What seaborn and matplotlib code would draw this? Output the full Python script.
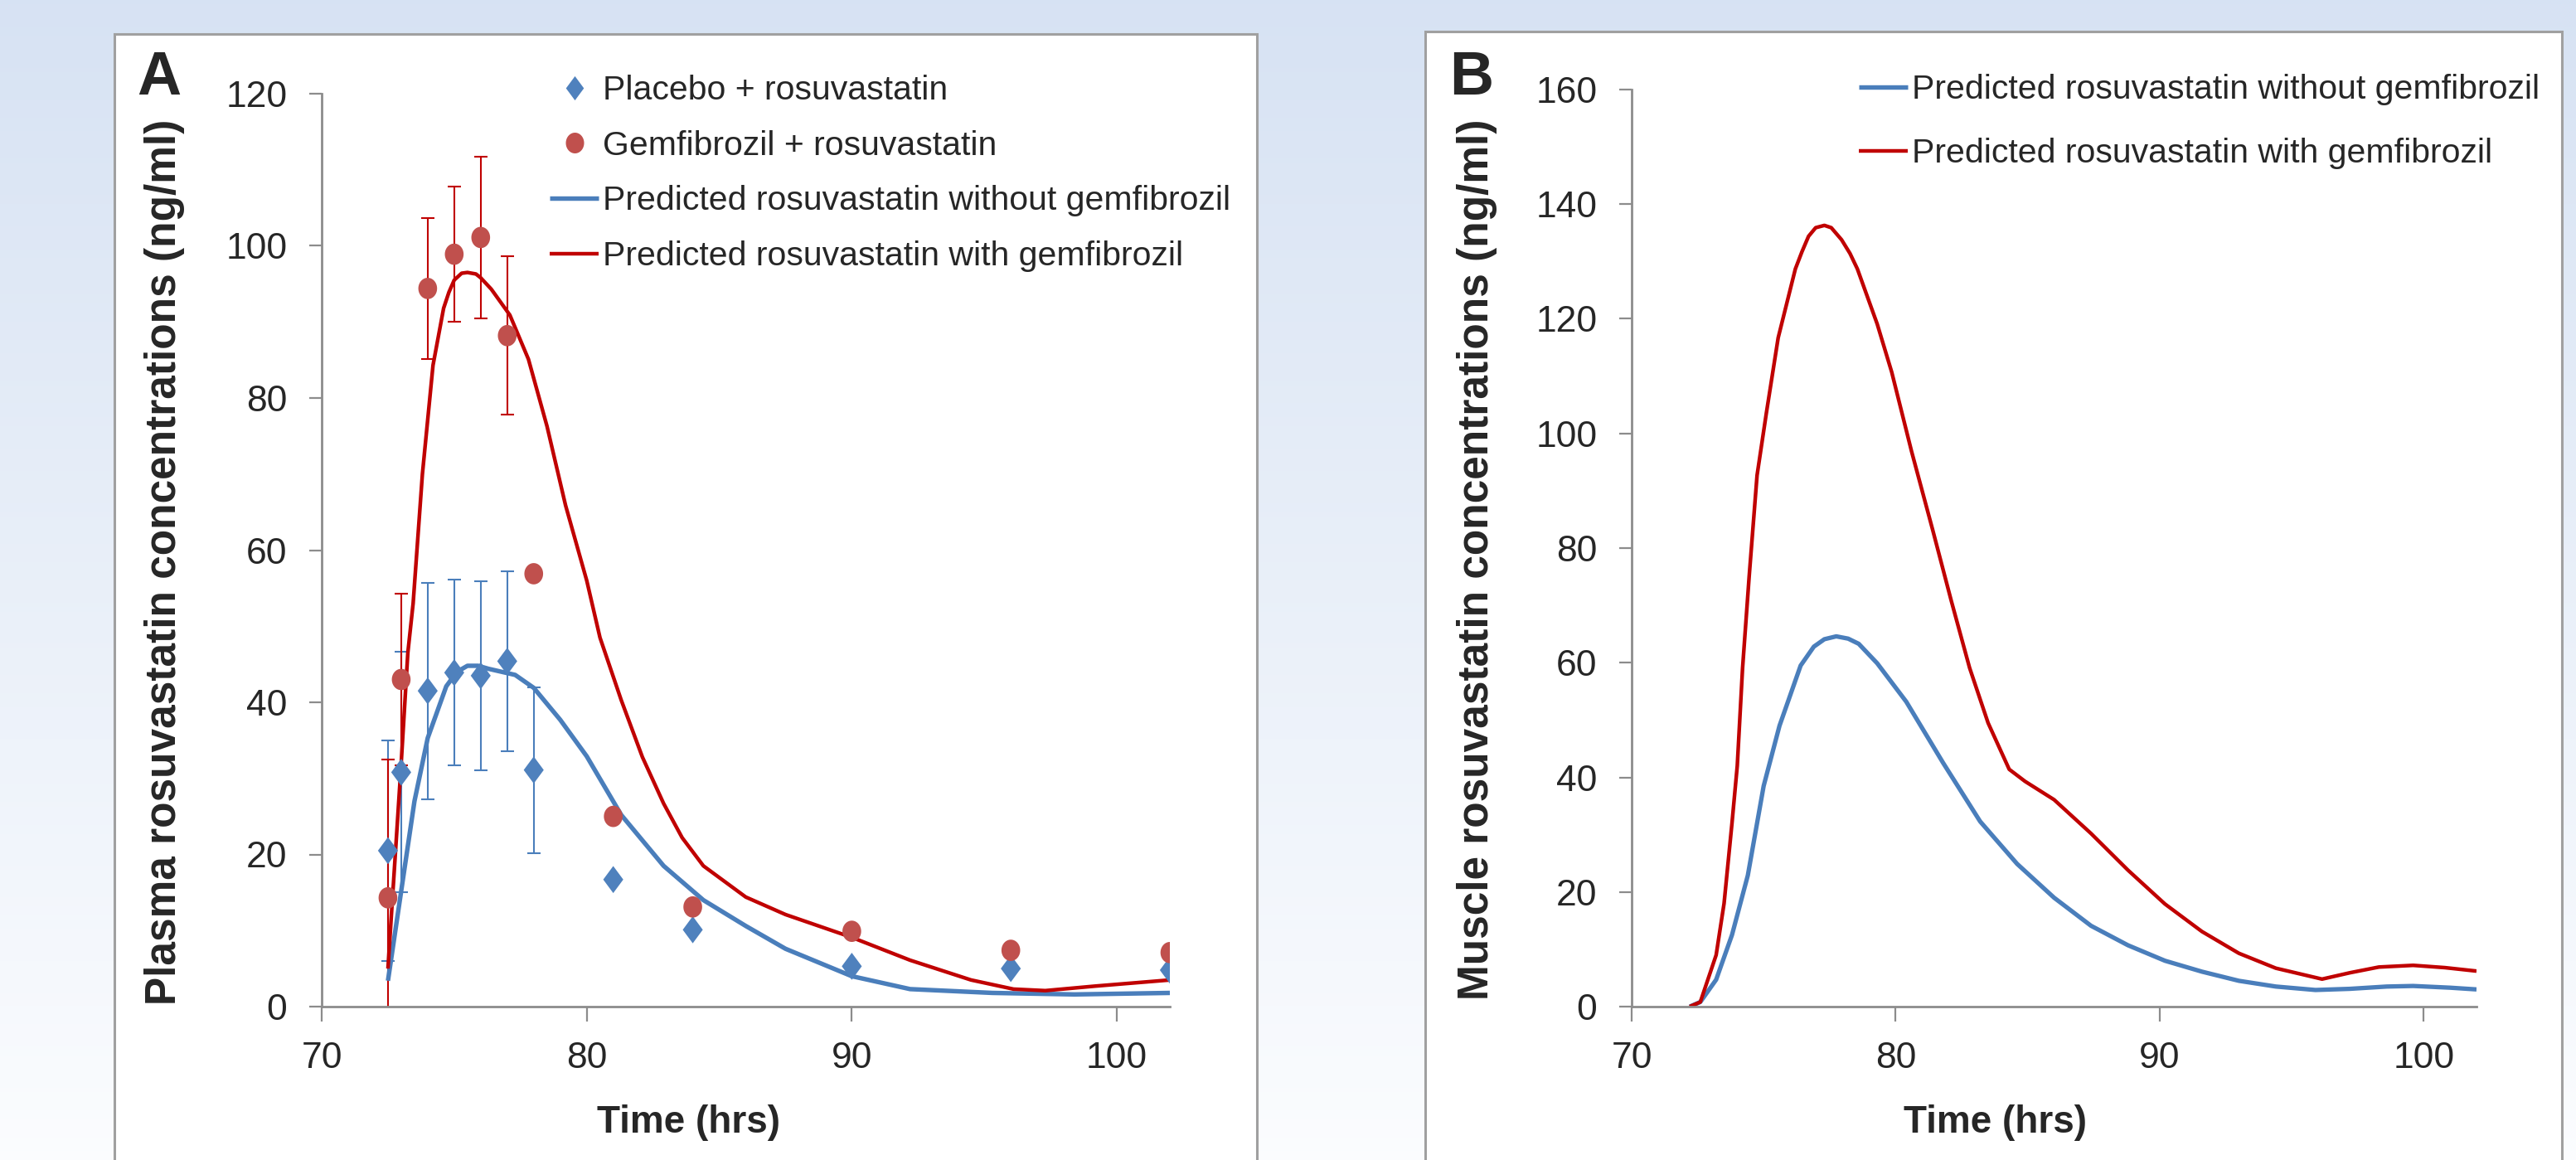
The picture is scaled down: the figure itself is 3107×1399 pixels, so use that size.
import numpy as np
import matplotlib
matplotlib.use("Agg")
import matplotlib.pyplot as plt
from matplotlib.path import Path
from matplotlib.lines import Line2D
from matplotlib.patches import Rectangle
import seaborn as sns

# observed plasma data (panel A)
obs_time = [72.5, 73, 74, 75, 76, 77, 78, 81, 84, 90, 96, 102]
placebo_obs = [20.5, 30.8, 41.5, 43.9, 43.5, 45.4, 31.1, 16.7, 10.1, 5.3, 5.0, 4.8]
placebo_sd = [14.5, 15.8, 14.2, 12.2, 12.4, 11.8, 10.9]
gem_obs = [14.3, 43.0, 94.4, 98.9, 101.1, 88.2, 56.9, 25.0, 13.1, 9.9, 7.4, 7.1]
gem_sd = [18.2, 11.3, 9.3, 8.9, 10.6, 10.4]

# predicted plasma curves (panel A)
plasma_t_without = [72.5, 73.0, 73.5, 74.0, 74.7, 75.1, 75.5, 75.9, 76.3, 77.3, 78.0,
                    79.0, 80.0, 81.3, 82.9, 84.4, 86.0, 87.5, 90.0, 92.2, 95.3, 98.4,
                    102.0]
plasma_without = [3.4, 15.2, 27.0, 35.3, 42.1, 44.0, 44.8, 44.8, 44.4, 43.6, 41.9,
                  37.7, 32.9, 25.2, 18.5, 14.0, 10.6, 7.6, 4.0, 2.3, 1.8, 1.6,
                  1.8]
plasma_t_with = [72.5, 73.0, 73.25, 73.45, 73.8, 74.2, 74.6, 74.8, 75.0, 75.28, 75.5,
                 75.82, 76.0, 76.4, 77.1, 77.8, 78.5, 79.2, 80.0, 80.5, 81.3, 82.1,
                 82.9, 83.6, 84.4, 86.0, 87.5, 90.0, 92.2, 94.5, 96.1, 97.3, 99.2,
                 102.0]
plasma_with = [5.0, 32.0, 46.5, 53.0, 70.0, 84.3, 91.8, 93.9, 95.5, 96.4, 96.5,
               96.3, 95.8, 94.3, 90.9, 85.1, 76.3, 65.9, 56.0, 48.5, 40.3, 32.8,
               26.7, 22.2, 18.5, 14.4, 12.1, 9.1, 6.1, 3.5, 2.3, 2.1, 2.7,
               3.5]

# predicted muscle curves (panel B)
muscle_t_without = [72.2, 72.6, 73.2, 73.8, 74.4, 75.0, 75.6, 76.4, 76.9, 77.3, 77.75,
                    78.2, 78.6, 79.3, 80.4, 81.8, 83.2, 84.6, 86.0, 87.4, 88.8, 90.2,
                    91.6, 93.0, 94.4, 95.9, 97.2, 98.6, 99.6, 101.0, 102.0]
muscle_without = [0.0, 0.8, 4.7, 12.5, 22.9, 38.5, 49.0, 59.5, 62.8, 64.1, 64.6,
                  64.2, 63.3, 59.9, 53.2, 42.5, 32.3, 24.9, 19.0, 14.1, 10.7, 8.0,
                  6.1, 4.5, 3.5, 2.9, 3.1, 3.5, 3.6, 3.3, 3.0]
muscle_t_with = [72.2, 72.6, 73.2, 73.5, 73.8, 74.0, 74.2, 74.45, 74.75, 75.1, 75.55,
                 76.2, 76.45, 76.7, 76.97, 77.3, 77.56, 77.95, 78.27, 78.55, 79.3,
                 79.85, 80.6, 81.4, 82.1, 82.8, 83.5, 84.3, 84.9, 86.0, 87.4, 88.8,
                 90.2, 91.6, 93.0, 94.4, 96.15, 97.2, 98.3, 99.6, 100.8, 102.0]
muscle_with = [0.0, 0.8, 9.0, 18.0, 32.0, 42.0, 59.0, 75.0, 92.7, 103.5, 116.7,
               128.7, 131.7, 134.4, 135.9, 136.3, 135.9, 133.8, 131.4, 128.7, 119.1,
               110.7, 96.9, 83.2, 70.9, 59.1, 49.5, 41.4, 39.3, 36.1, 30.2, 23.8,
               17.9, 13.1, 9.3, 6.7, 4.8, 5.9, 6.9, 7.2, 6.8, 6.2]

BLUE_LINE = "#4a7ebb"
RED_LINE = "#c00000"
BLUE_MK = "#4f81bd"
RED_MK = "#c0504d"
GRAY = "#8c8c8c"

sns.set_style("white")
plt.rcParams["font.family"] = ["Liberation Sans", "DejaVu Sans"]
plt.rcParams["lines.solid_joinstyle"] = "round"
plt.rcParams["lines.solid_capstyle"] = "butt"

# slightly tall marker shapes like the Excel ones
diamond = Path([(0, 1), (0.74, 0), (0, -1), (-0.74, 0), (0, 1)],
               [Path.MOVETO, Path.LINETO, Path.LINETO, Path.LINETO, Path.CLOSEPOLY])
ang = np.linspace(0, 2 * np.pi, 60)
ellipse = Path(np.column_stack([0.88 * np.cos(ang), np.sin(ang)]))

W, H = 3107, 1399
fig = plt.figure(figsize=(W / 100, H / 100), dpi=100)

# background gradient + white panels
bg = fig.add_axes([0, 0, 1, 1], zorder=-10)
top = np.array([0.843, 0.888, 0.953])
bot = np.array([0.985, 0.990, 0.998])
frac = np.linspace(0, 1, 256)[:, None, None]
grad = top * (1 - frac) + bot * frac
grad = np.repeat(grad, 4, axis=1)
bg.imshow(grad, aspect="auto", extent=[0, 1, 0, 1], origin="upper")
bg.set_xlim(0, 1)
bg.set_ylim(0, 1)
bg.axis("off")
for x0, x1, ytop in [(138, 1516, 41), (1719, 3090, 38)]:
    bg.add_patch(Rectangle((x0 / W, -0.01), (x1 - x0) / W, 1 - ytop / H + 0.01,
                           facecolor="white", edgecolor="#a0a0a0", lw=2.2))


def px_axes(x0, x1, ytop, ybot):
    return fig.add_axes([x0 / W, 1 - ybot / H, (x1 - x0) / W, (ybot - ytop) / H])


def style_axes(ax, ymax):
    ax.set_facecolor("none")
    for s in ["top", "right"]:
        ax.spines[s].set_visible(False)
    for s in ["left", "bottom"]:
        ax.spines[s].set_color(GRAY)
        ax.spines[s].set_linewidth(2.0)
    ax.set_xlim(70, 102)
    ax.set_ylim(0, ymax)
    ax.set_xticks([70, 80, 90, 100])
    ax.set_yticks(np.arange(0, ymax + 1, 20))
    ax.tick_params(axis="y", direction="out", length=11, width=1.6, color=GRAY,
                   labelsize=32, pad=19, left=True)
    ax.tick_params(axis="x", direction="out", length=13, width=1.6, color=GRAY,
                   labelsize=32, pad=17, bottom=True)
    ax.grid(False)


# ---------------- Panel A ----------------
axA = px_axes(388, 1411, 113, 1214)
axA.errorbar(obs_time[:7], placebo_obs[:7], yerr=placebo_sd, fmt="none",
             ecolor=BLUE_LINE, elinewidth=1.5, capsize=5.5, capthick=1.5, zorder=2)
axA.errorbar(obs_time[:6], gem_obs[:6], yerr=gem_sd, fmt="none",
             ecolor=RED_LINE, elinewidth=1.5, capsize=5.5, capthick=1.5, zorder=2)
sns.lineplot(x=plasma_t_without, y=plasma_without, ax=axA, color=BLUE_LINE,
             linewidth=3.9, zorder=3)
sns.lineplot(x=plasma_t_with, y=plasma_with, ax=axA, color=RED_LINE,
             linewidth=3.2, zorder=3)
sns.scatterplot(x=obs_time, y=placebo_obs, ax=axA, marker=diamond, s=23.5 ** 2,
                color=BLUE_MK, edgecolor="none", linewidth=0, zorder=4)
sns.scatterplot(x=obs_time, y=gem_obs, ax=axA, marker=ellipse, s=18.5 ** 2,
                color=RED_MK, edgecolor="none", linewidth=0, zorder=4)
style_axes(axA, 120)
axA.set_xlabel("")
axA.set_ylabel("")

handlesA = [
    Line2D([], [], ls="none", marker=diamond, ms=21, color=BLUE_MK, mec="none"),
    Line2D([], [], ls="none", marker=ellipse, ms=18, color=RED_MK, mec="none"),
    Line2D([], [], color=BLUE_LINE, lw=3.9),
    Line2D([], [], color=RED_LINE, lw=3.2),
]
labelsA = ["Placebo + rosuvastatin", "Gemfibrozil + rosuvastatin",
           "Predicted rosuvastatin without gemfibrozil",
           "Predicted rosuvastatin with gemfibrozil"]
fig.legend(handlesA, labelsA, loc="upper left", bbox_to_anchor=(663 / W, 1 - 90 / H),
           frameon=False, fontsize=29.5, borderpad=0, borderaxespad=0,
           handlelength=1.45, handletextpad=0.12, labelspacing=0.70)

fig.text(830 / W, 1 - 1354 / H, "Time (hrs)", ha="center", va="center",
         fontsize=33, fontweight="bold")
fig.text(199 / W, 1 - 678 / H, "Plasma rosuvastatin concentrations (ng/ml)",
         rotation=90, ha="center", va="center", fontsize=37, fontweight="bold")
fig.text(192 / W, 1 - 94 / H, "A", ha="center", va="center",
         fontsize=53, fontweight="bold")

# ---------------- Panel B ----------------
axB = px_axes(1968, 2987, 108, 1214)
sns.lineplot(x=muscle_t_without, y=muscle_without, ax=axB, color=BLUE_LINE,
             linewidth=3.8)
sns.lineplot(x=muscle_t_with, y=muscle_with, ax=axB, color=RED_LINE,
             linewidth=3.2)
style_axes(axB, 160)
axB.set_xlabel("")
axB.set_ylabel("")

handlesB = [Line2D([], [], color=BLUE_LINE, lw=3.9),
            Line2D([], [], color=RED_LINE, lw=3.2)]
labelsB = ["Predicted rosuvastatin without gemfibrozil",
           "Predicted rosuvastatin with gemfibrozil"]
fig.legend(handlesB, labelsB, loc="upper left", bbox_to_anchor=(2242 / W, 1 - 89 / H),
           frameon=False, fontsize=29.5, borderpad=0, borderaxespad=0,
           handlelength=1.45, handletextpad=0.12, labelspacing=0.95)

fig.text(2406 / W, 1 - 1354 / H, "Time (hrs)", ha="center", va="center",
         fontsize=33, fontweight="bold")
fig.text(1782 / W, 1 - 675 / H, "Muscle rosuvastatin concentrations (ng/ml)",
         rotation=90, ha="center", va="center", fontsize=37, fontweight="bold")
fig.text(1775 / W, 1 - 94 / H, "B", ha="center", va="center",
         fontsize=53, fontweight="bold")

fig.savefig("out.png", dpi=100)
